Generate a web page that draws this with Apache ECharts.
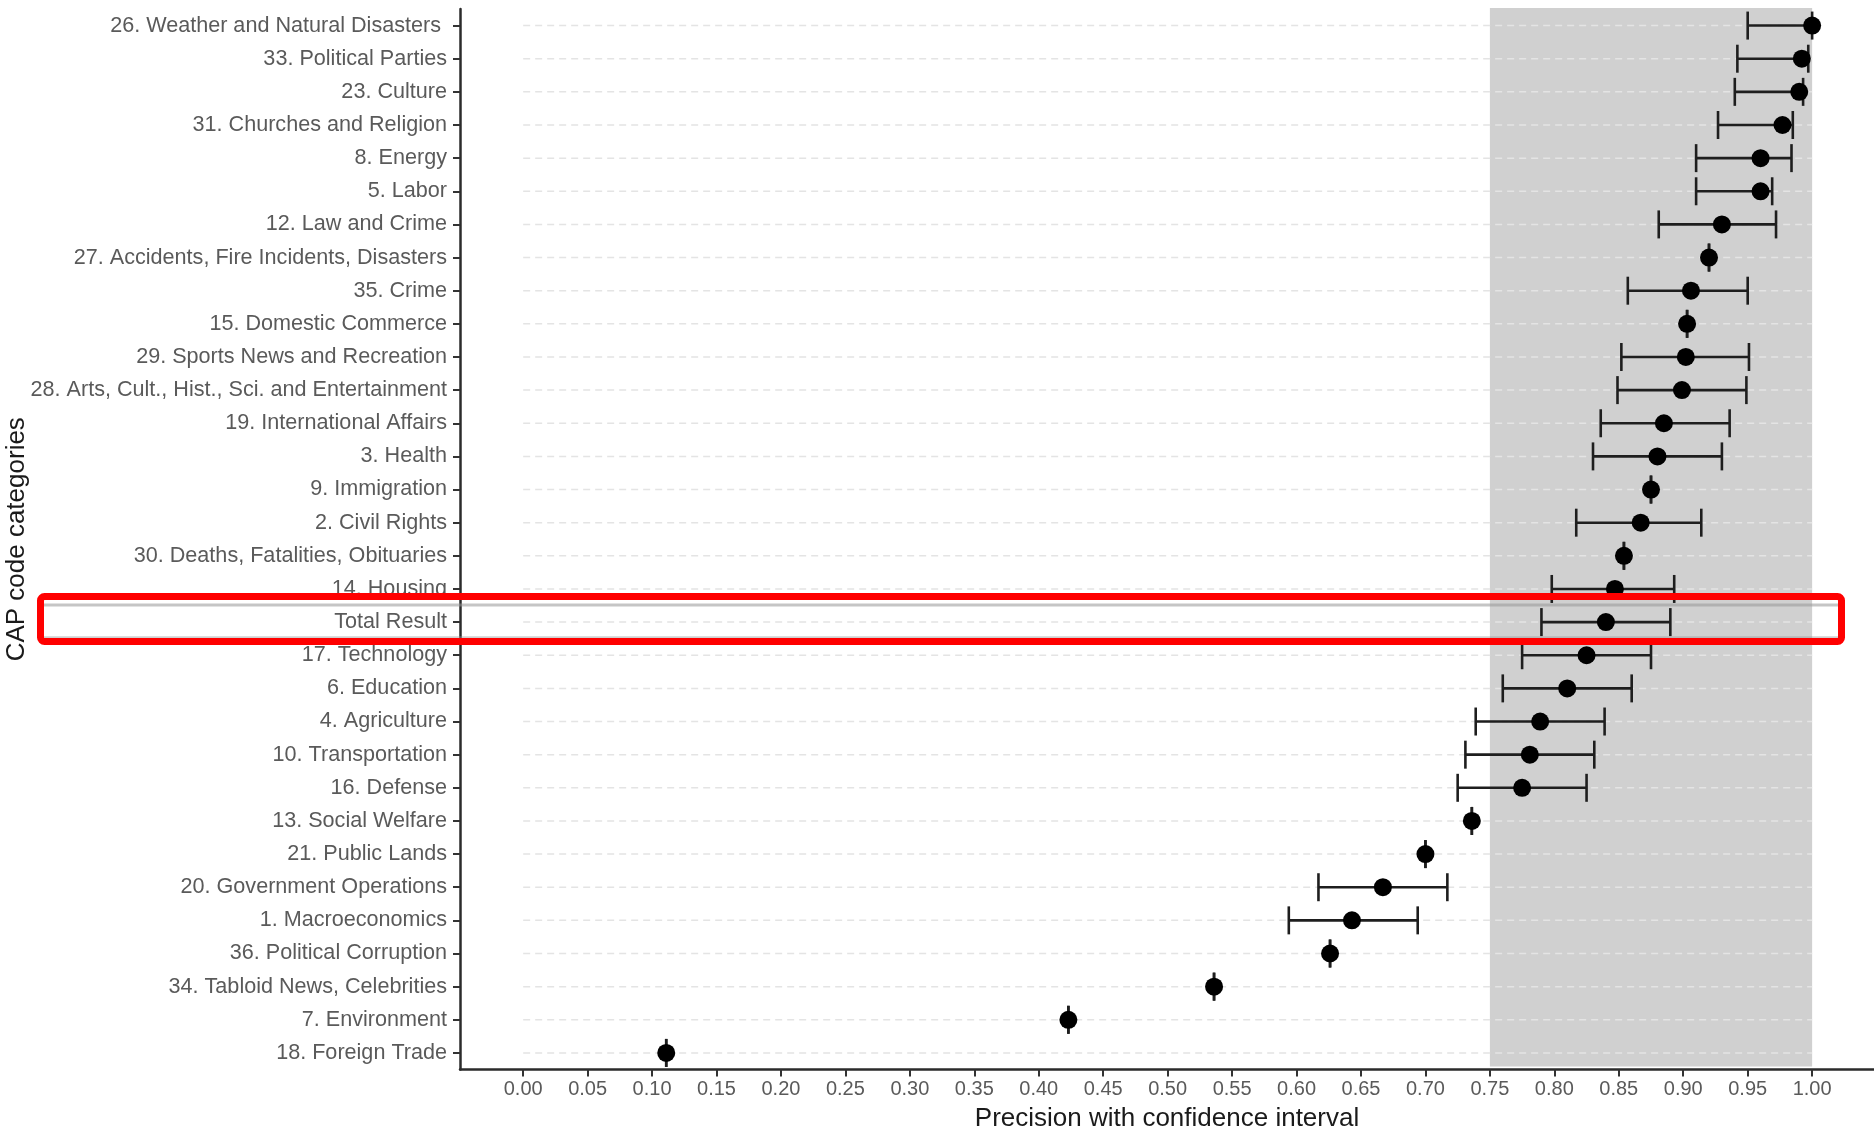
<!DOCTYPE html>
<html>
<head>
<meta charset="utf-8">
<script src="https://cdn.jsdelivr.net/npm/echarts@6/dist/echarts.min.js"></script>
<style>
html,body{margin:0;padding:0;background:#fff;}
#chart{width:1874px;height:1138px;}
</style>
</head>
<body>
<div id="chart"></div>
<script>
const categories = [
  "26. Weather and Natural Disasters ",
  "33. Political Parties",
  "23. Culture",
  "31. Churches and Religion",
  "8. Energy",
  "5. Labor",
  "12. Law and Crime",
  "27. Accidents, Fire Incidents, Disasters",
  "35. Crime",
  "15. Domestic Commerce",
  "29. Sports News and Recreation",
  "28. Arts, Cult., Hist., Sci. and Entertainment",
  "19. International Affairs",
  "3. Health",
  "9. Immigration",
  "2. Civil Rights",
  "30. Deaths, Fatalities, Obituaries",
  "14. Housing",
  "Total Result",
  "17. Technology",
  "6. Education",
  "4. Agriculture",
  "10. Transportation",
  "16. Defense",
  "13. Social Welfare",
  "21. Public Lands",
  "20. Government Operations",
  "1. Macroeconomics",
  "36. Political Corruption",
  "34. Tabloid News, Celebrities",
  "7. Environment",
  "18. Foreign Trade"
];
const precision = [1.000, 0.992, 0.990, 0.977, 0.960, 0.960, 0.930, 0.920, 0.906, 0.903, 0.902, 0.899, 0.885, 0.880, 0.875, 0.867, 0.854, 0.847, 0.840, 0.825, 0.810, 0.789, 0.781, 0.775, 0.736, 0.700, 0.667, 0.643, 0.626, 0.536, 0.423, 0.111];
const ciLower   = [0.950, 0.942, 0.940, 0.927, 0.910, 0.910, 0.881, 0.920, 0.857, 0.903, 0.852, 0.849, 0.836, 0.830, 0.875, 0.817, 0.854, 0.798, 0.790, 0.775, 0.760, 0.739, 0.731, 0.725, 0.736, 0.700, 0.617, 0.594, 0.626, 0.536, 0.423, 0.111];
const ciUpper   = [1.000, 0.997, 0.993, 0.985, 0.984, 0.969, 0.972, 0.920, 0.950, 0.903, 0.951, 0.949, 0.936, 0.930, 0.875, 0.914, 0.854, 0.893, 0.890, 0.875, 0.860, 0.839, 0.831, 0.825, 0.736, 0.700, 0.717, 0.694, 0.626, 0.536, 0.423, 0.111];
const xTicks = [0.00, 0.05, 0.10, 0.15, 0.20, 0.25, 0.30, 0.35, 0.40, 0.45, 0.50, 0.55, 0.60, 0.65, 0.70, 0.75, 0.80, 0.85, 0.90, 0.95, 1.00];
const shadedRange = [0.75, 1.00];
const guideRange = [0.00, 1.00];

const FONT = "'Liberation Sans', Arial, sans-serif";
const chart = echarts.init(document.getElementById('chart'), null, {renderer: 'canvas'});

const option = {
  animation: false,
  backgroundColor: '#ffffff',
  grid: {left: 460, right: 0, top: 9, bottom: 68.5, containLabel: false, outerBoundsMode: 'none'},
  xAxis: {
    type: 'value',
    min: -0.049,
    max: 1.048,
    name: 'Precision with confidence interval',
    nameLocation: 'middle',
    nameGap: 36,
    nameMoveOverlap: false,
    nameTextStyle: {fontFamily: FONT, fontSize: 26, color: '#1a1a1a', verticalAlign: 'top'},
    axisLine: {show: true, onZero: false, lineStyle: {color: '#2b2b2b', width: 2.5}},
    axisTick: {show: true, length: 7, lineStyle: {color: '#333', width: 2}, customValues: xTicks},
    axisLabel: {
      show: true, margin: 10, fontFamily: FONT, fontSize: 20, color: '#5a5a5a',
      customValues: xTicks,
      formatter: v => Number(v).toFixed(2)
    },
    splitLine: {show: false}
  },
  yAxis: {
    type: 'category',
    data: categories,
    inverse: true,
    boundaryGap: true,
    name: 'CAP code categories',
    nameLocation: 'middle',
    nameGap: 430,
    nameRotate: 90,
    nameMoveOverlap: false,
    nameTextStyle: {fontFamily: FONT, fontSize: 26, color: '#1a1a1a'},
    axisLine: {show: true, onZero: false, lineStyle: {color: '#2b2b2b', width: 2.5}},
    axisTick: {show: true, length: 7, alignWithLabel: true, lineStyle: {color: '#333', width: 2}},
    axisLabel: {show: true, margin: 13, fontFamily: FONT, fontSize: 21.6, color: '#5a5a5a', interval: 0},
    splitLine: {show: false}
  },
  series: [
    {
      type: 'custom',
      name: 'shade',
      z: 1,
      silent: true,
      encode: {x: [0, 1], y: 2},
      data: [[shadedRange[0], shadedRange[1], categories[0]]],
      renderItem: function (params, api) {
        const p0 = api.coord([api.value(0), 0]);
        const p1 = api.coord([api.value(1), 0]);
        const cs = params.coordSys;
        return {
          type: 'rect',
          shape: {x: p0[0], y: cs.y - 1, width: p1[0] - p0[0], height: cs.height - 2},
          style: {fill: '#d0d0d0'}
        };
      }
    },
    {
      type: 'custom',
      name: 'guides',
      z: 2,
      silent: true,
      encode: {x: [0, 1], y: 2},
      data: categories.map(c => [guideRange[0], guideRange[1], c]),
      renderItem: function (params, api) {
        const idx = api.value(2);
        const a = api.coord([api.value(0), idx]);
        const b = api.coord([api.value(1), idx]);
        return {
          type: 'line',
          shape: {x1: a[0], y1: a[1], x2: b[0], y2: b[1]},
          style: {stroke: '#e4e4e4', lineWidth: 1.5, lineDash: [7, 5]}
        };
      }
    },
    {
      type: 'custom',
      name: 'ci',
      z: 3,
      silent: true,
      encode: {x: [0, 1], y: 2},
      data: categories.map((c, i) => [ciLower[i], ciUpper[i], c]),
      renderItem: function (params, api) {
        const idx = api.value(2);
        const a = api.coord([api.value(0), idx]);
        const b = api.coord([api.value(1), idx]);
        const h = 14;
        const st = {stroke: '#1e1e1e', lineWidth: 2.6};
        return {
          type: 'group',
          children: [
            {type: 'line', shape: {x1: a[0], y1: a[1], x2: b[0], y2: b[1]}, style: st},
            {type: 'line', shape: {x1: a[0], y1: a[1] - h, x2: a[0], y2: a[1] + h}, style: st},
            {type: 'line', shape: {x1: b[0], y1: b[1] - h, x2: b[0], y2: b[1] + h}, style: st}
          ]
        };
      }
    },
    {
      type: 'scatter',
      name: 'precision',
      z: 4,
      symbol: 'circle',
      symbolSize: 18,
      itemStyle: {color: '#000000', opacity: 1},
      emphasis: {disabled: true},
      data: categories.map((c, i) => [precision[i], c])
    }
  ],
  graphic: [
    {
      type: 'line', z: 99, silent: true,
      shape: {x1: 44, y1: 605, x2: 1838, y2: 605},
      style: {stroke: 'rgba(150,150,150,0.55)', lineWidth: 3}
    },
    {
      type: 'line', z: 99, silent: true,
      shape: {x1: 44, y1: 637.5, x2: 1838, y2: 637.5},
      style: {stroke: 'rgba(150,150,150,0.45)', lineWidth: 2.5}
    },
    {
      type: 'rect', z: 100, silent: true,
      shape: {x: 40.5, y: 596.5, width: 1801, height: 45, r: 4},
      style: {fill: 'none', stroke: '#ff0000', lineWidth: 7}
    }
  ]
};
chart.setOption(option);
</script>
</body>
</html>
